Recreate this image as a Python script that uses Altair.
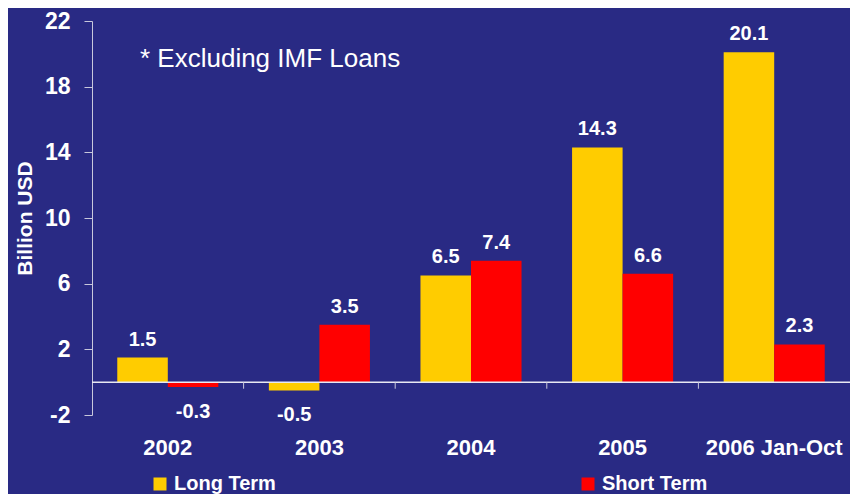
import altair as alt
import pandas as pd

categories = ["2002", "2003", "2004", "2005", "2006 Jan-Oct"]
long_term = [1.5, -0.5, 6.5, 14.3, 20.1]
short_term = [-0.3, 3.5, 7.4, 6.6, 2.3]
series = ["Long Term", "Short Term"]
colors = ["#FFCC00", "#FF0000"]
y_ticks = [-2, 2, 6, 10, 14, 18, 22]
y_title = "Billion USD"
note = "* Excluding IMF Loans"

rows = []
for c, lt, st in zip(categories, long_term, short_term):
    rows.append({"cat": c, "series": series[0], "value": lt, "label": f"{lt:.1f}"})
    rows.append({"cat": c, "series": series[1], "value": st, "label": f"{st:.1f}"})
df = pd.DataFrame(rows)

FONT = "Liberation Sans"
AXIS_COL = "#c8c8dc"
W, H = 758, 394
STEP = W / len(categories)

x_enc = alt.X(
    "cat:N", sort=categories,
    scale=alt.Scale(paddingInner=1 / 3, paddingOuter=1 / 6),
    axis=alt.Axis(title=None, labelAngle=0, domain=False, ticks=False,
                  labelPadding=22, labelFontSize=22, labelFontWeight="bold",
                  labelColor="white", labelFont=FONT),
)
xoff = alt.XOffset("series:N", sort=series,
                   scale=alt.Scale(paddingInner=0, paddingOuter=0))
y_enc = alt.Y(
    "value:Q",
    scale=alt.Scale(domain=[-2, 22], nice=False, zero=False),
    axis=alt.Axis(values=y_ticks, title=y_title, grid=False,
                  labelExpr="'' + datum.value",
                  domainColor=AXIS_COL, tickColor=AXIS_COL, tickSize=8,
                  labelPadding=14, labelFontSize=23, labelFontWeight="bold",
                  labelColor="white", labelFont=FONT,
                  titleFontSize=21, titleFontWeight="bold", titleColor="white",
                  titleFont=FONT, titlePadding=9),
)
color_enc = alt.Color(
    "series:N", sort=series,
    scale=alt.Scale(domain=series, range=colors),
    legend=alt.Legend(title=None, orient="none", legendX=58, legendY=453,
                      direction="horizontal", symbolType="square",
                      symbolSize=169, symbolStrokeWidth=0,
                      labelFontSize=20, labelFontWeight="bold",
                      labelColor="white", labelFont=FONT,
                      columnPadding=302, labelOffset=4, padding=0),
)

base = alt.Chart(df)
bars = base.mark_bar().encode(x=x_enc, xOffset=xoff, y=y_enc, color=color_enc)

pos_labels = base.transform_filter("datum.value >= 0").mark_text(
    dy=-12, baseline="alphabetic", fontSize=20, fontWeight="bold",
    color="white", font=FONT
).encode(x=x_enc, xOffset=xoff, y=y_enc, text="label:N")

neg_labels = base.transform_filter("datum.value < 0").mark_text(
    dy=31, baseline="alphabetic", fontSize=20, fontWeight="bold",
    color="white", font=FONT
).encode(x=x_enc, xOffset=xoff, y=y_enc, text="label:N")

zero_line = alt.Chart(pd.DataFrame({"z": [0]})).mark_rule(
    color="#e8e8f2", strokeWidth=1.5
).encode(y=alt.Y("z:Q"))

bounds = alt.Chart(pd.DataFrame({"cat": categories[1:]})).mark_rule(
    color=AXIS_COL, strokeWidth=1, xOffset=-STEP / 6
).encode(
    x=alt.X("cat:N", sort=categories, bandPosition=0),
    y=alt.datum(0), y2=alt.datum(-0.4),
)

annot = alt.Chart(pd.DataFrame({"t": [note]})).mark_text(
    align="left", baseline="alphabetic", fontSize=26, color="white", font=FONT
).encode(
    x=alt.XDatum("2002", bandPosition=0.225),
    y=alt.datum(19.22),
    text="t:N",
)

chart = alt.layer(bars, zero_line, bounds, pos_labels, neg_labels, annot).properties(
    width=W, height=H,
    autosize=alt.AutoSizeParams(type="none"),
    padding={"left": 84, "top": 13, "right": 0, "bottom": 79},
).configure(
    background="#292a84",
    font=FONT,
).configure_view(stroke=None)

chart.save("out.html", embed_options={"renderer": "svg", "actions": False})
